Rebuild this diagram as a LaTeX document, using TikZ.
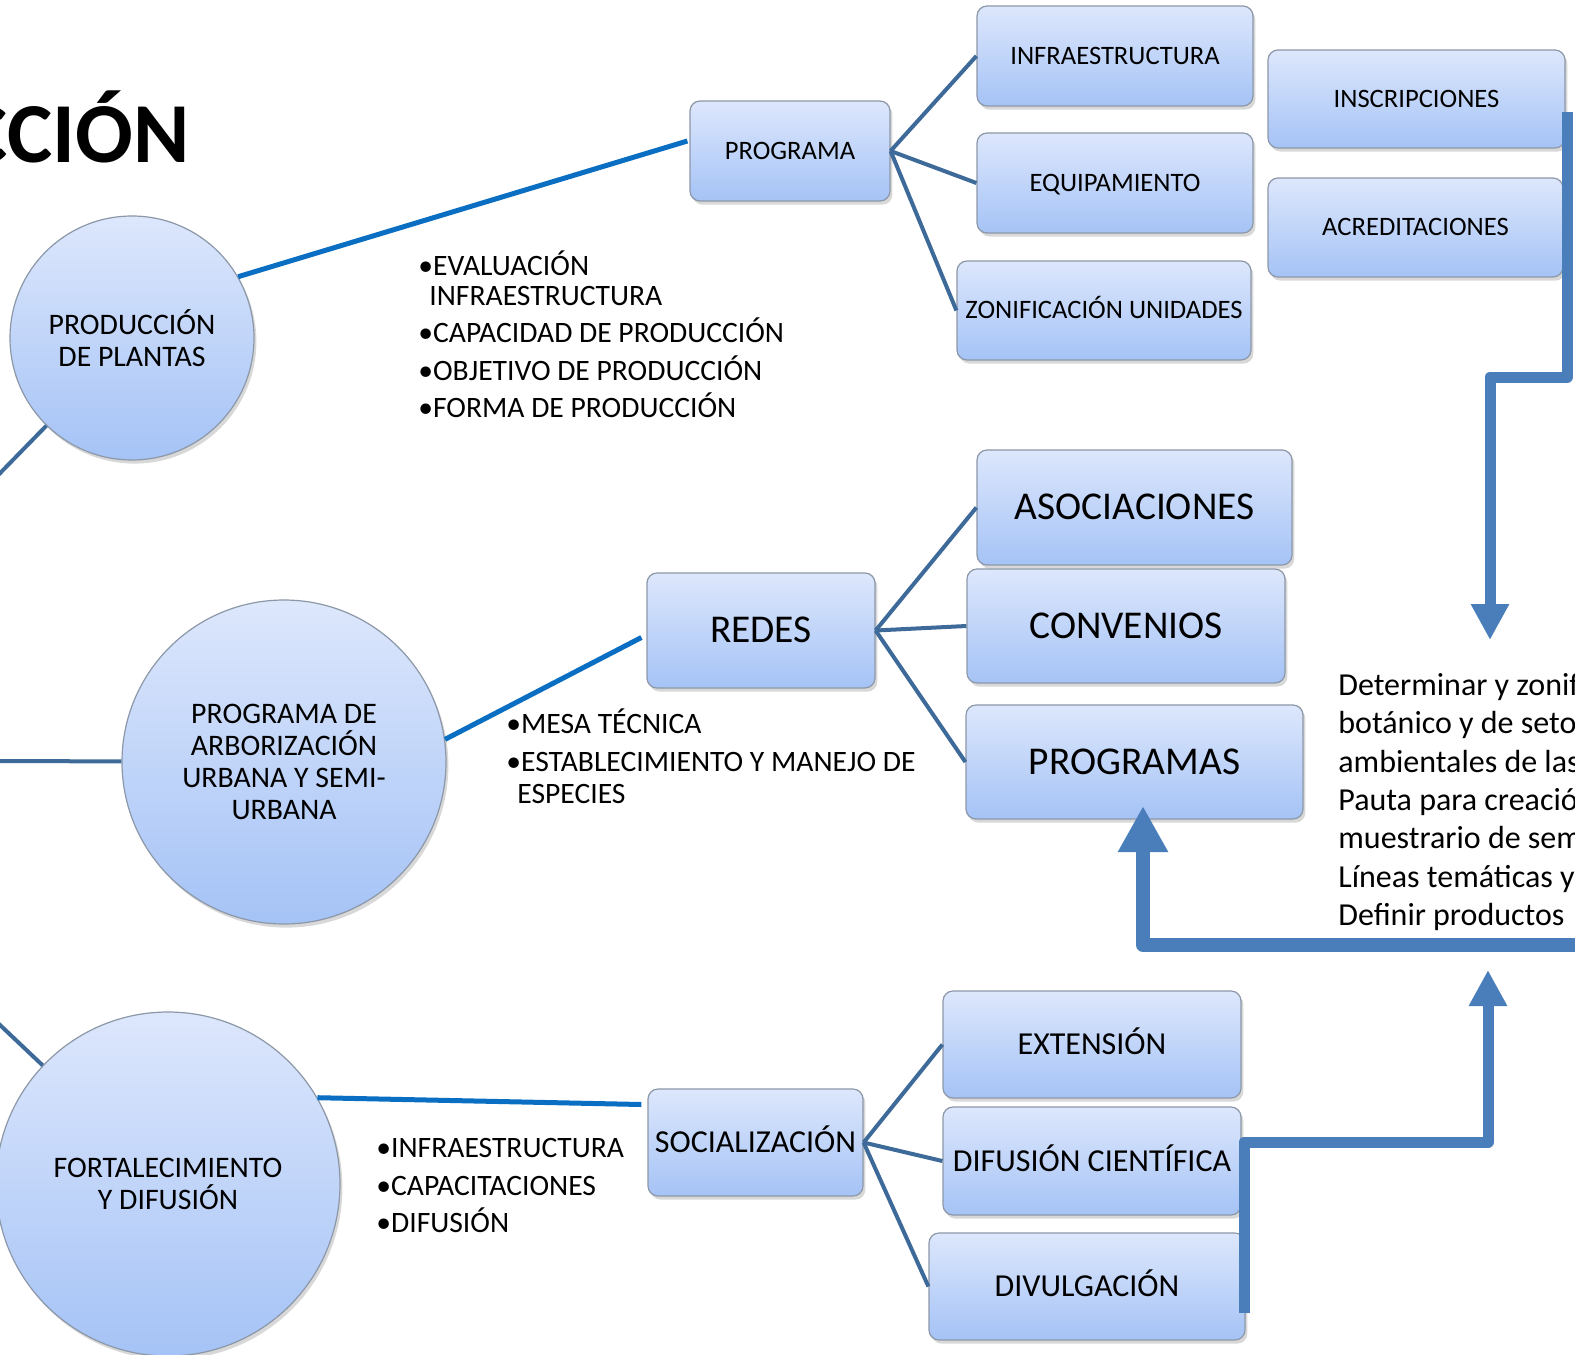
\documentclass[tikz,border=0pt]{standalone}
\usepackage{fontspec}
\setmainfont{Carlito}
\usetikzlibrary{shadows,arrows.meta,calc}
\definecolor{boxtop}{HTML}{DDE7FC}
\definecolor{boxbot}{HTML}{A5C3F6}
\definecolor{boxline}{HTML}{8C98A8}
\definecolor{linkdark}{HTML}{3E6A9A}
\definecolor{linkbright}{HTML}{0A6FC2}
\definecolor{flowblue}{HTML}{4A7EBB}
\tikzset{
  softshadow/.style={drop shadow={shadow xshift=1.2pt, shadow yshift=-1.8pt, opacity=0.3}},
  box/.style={rectangle, rounded corners=5pt, draw=boxline, line width=0.6pt,
    top color=boxtop, bottom color=boxbot, softshadow, inner sep=0pt, align=center,
    text depth=0pt},
  bubble/.style={circle, draw=boxline, line width=0.6pt, top color=boxtop,
    bottom color=boxbot, softshadow, inner sep=0pt, align=center,
    font=\fontsize{14.9}{16}\selectfont},
  sbox/.style={box, font=\fontsize{13.3}{15}\selectfont, text height=8.4pt},
  lbox/.style={box, font=\fontsize{19.7}{22}\selectfont, text height=12.45pt},
  mbox/.style={box, font=\fontsize{16}{18}\selectfont, text height=10.1pt},
  link/.style={draw=linkdark, line width=2pt},
  feed/.style={draw=linkbright, line width=2.5pt},
  flow/.style={draw=flowblue, line width=5.5pt, line join=round, -{Triangle[width=18pt,length=18pt]}},
  bigflow/.style={draw=flowblue, line width=7pt, line join=round, -{Triangle[width=23.5pt,length=23pt]}},
  bul/.style={anchor=base west, inner sep=0pt, font=\fontsize{14.8}{17}\selectfont},
  note/.style={anchor=base west, inner sep=0pt, font=\fontsize{16}{19}\selectfont},
}
\begin{document}
\begin{tikzpicture}[x=0.5pt,y=-0.5pt]
\fill[white] (0,0) rectangle (1575,1355);
\useasboundingbox (0,0) rectangle (1575,1355);

% title
\node[anchor=base east, inner sep=0pt, font=\fontsize{42.7}{50}\selectfont\bfseries] (title) at (190,162) {CCIÓN};

% circles
\node[bubble, minimum size=122pt] (c1) at (132,338) {PRODUCCIÓN\\DE PLANTAS};
\node[bubble, minimum size=162pt] (c2) at (284,762) {PROGRAMA DE\\ARBORIZACIÓN\\URBANA Y SEMI-\\URBANA};
\node[bubble, minimum size=172pt] (c3) at (168,1184) {FORTALECIMIENTO\\Y DIFUSIÓN};

% hub off the page
\coordinate (hub) at (-280,760);
\draw[link] (hub) -- (c1);
\draw[link] (hub) -- (c2);
\draw[link] (hub) -- (c3);

% boxes
\node[sbox, minimum width=100pt, minimum height=50pt] (prog) at (790,151) {PROGRAMA};
\node[sbox, minimum width=138pt, minimum height=50pt] (infra) at (1115,56) {INFRAESTRUCTURA};
\node[sbox, minimum width=138pt, minimum height=50pt] (equip) at (1115,183) {EQUIPAMIENTO};
\node[sbox, minimum width=147pt, minimum height=49.5pt] (zonif) at (1104,310.5) {ZONIFICACIÓN UNIDADES};
\node[sbox, minimum width=148.5pt, minimum height=49pt] (inscr) at (1416.5,99) {INSCRIPCIONES};
\node[sbox, minimum width=147.5pt, minimum height=49.5pt] (acred) at (1415.5,227.5) {ACREDITACIONES};

\node[lbox, minimum width=114pt, minimum height=57.5pt] (redes) at (761,630.5) {REDES};
\node[lbox, minimum width=157.5pt, minimum height=57.5pt] (asoc) at (1134.5,507.5) {ASOCIACIONES};
\node[lbox, minimum width=159pt, minimum height=57pt] (conv) at (1126,626) {CONVENIOS};
\node[lbox, minimum width=168.5pt, minimum height=57pt] (progs) at (1134.5,762) {PROGRAMAS};

\node[mbox, minimum width=107.5pt, minimum height=53.5pt] (soc) at (755.5,1142.5) {SOCIALIZACIÓN};
\node[mbox, minimum width=149pt, minimum height=53.5pt] (ext) at (1092,1044.5) {EXTENSIÓN};
\node[mbox, minimum width=149pt, minimum height=54pt] (dif) at (1092,1161) {DIFUSIÓN CIENTÍFICA};
\node[mbox, minimum width=158pt, minimum height=53.5pt] (div) at (1087,1286.5) {DIVULGACIÓN};

% connectors
\draw[feed] (c1.30) -- ($(prog.west)+(-2,-10)$);
\draw[feed] (c2.8) -- ($(redes.west)+(-5,7)$);
\draw[feed] (c3.30) -- ($(soc.west)+(-6,-38)$);

\draw[link] (prog.east) -- (infra.west);
\draw[link] (prog.east) -- (equip.west);
\draw[link] (prog.east) -- (zonif.west);
\draw[link] (redes.east) -- (asoc.west);
\draw[link] (redes.east) -- (conv.west);
\draw[link] (redes.east) -- (progs.west);
\draw[link] (soc.east) -- (ext.west);
\draw[link] (soc.east) -- (dif.west);
\draw[link] (soc.east) -- (div.west);

% bullet lists
\node[bul] (p1) at (418,275) {•EVALUACIÓN};
\node[bul] (p2) at (429,305) {INFRAESTRUCTURA};
\node[bul] (p3) at (418,342) {•CAPACIDAD DE PRODUCCIÓN};
\node[bul] (p4) at (418,380) {•OBJETIVO DE PRODUCCIÓN};
\node[bul] (p5) at (418,417) {•FORMA DE PRODUCCIÓN};

\node[bul] (r1) at (506,733) {•MESA TÉCNICA};
\node[bul] (r2) at (506,771) {•ESTABLECIMIENTO Y MANEJO DE};
\node[bul] (r3) at (517,803) {ESPECIES};

\node[bul] (s1) at (376,1157) {•INFRAESTRUCTURA};
\node[bul] (s2) at (376,1195) {•CAPACITACIONES};
\node[bul] (s3) at (376,1232) {•DIFUSIÓN};

% right text
\node[note] (n1) at (1338,695) {Determinar y zonif};
\node[note] (n2) at (1338,733) {botánico y de seto};
\node[note] (n3) at (1338,772) {ambientales de las};
\node[note] (n4) at (1338,810) {Pauta para creació};
\node[note] (n5) at (1338,848) {muestrario de sem};
\node[note] (n6) at (1338,887) {Líneas temáticas y};
\node[note] (n7) at (1338,925) {Definir productos};

% thick flow arrows
\coordinate (aS) at (1567,112);
\coordinate (aM) at (1490,377);
\coordinate (aE) at (1490,640);
\draw[flow] (aS) |- (aM) -- (aE);

\coordinate (bS) at (1244,1313);
\coordinate (bM) at (1488,1142);
\coordinate (bE) at (1488,970);
\draw[flow] (bS) |- (bM) -- (bE);

\coordinate (cS) at (1600,945);
\coordinate (cE) at (1143,806);
\draw[bigflow] (cS) -| (cE);
\end{tikzpicture}
\end{document}
